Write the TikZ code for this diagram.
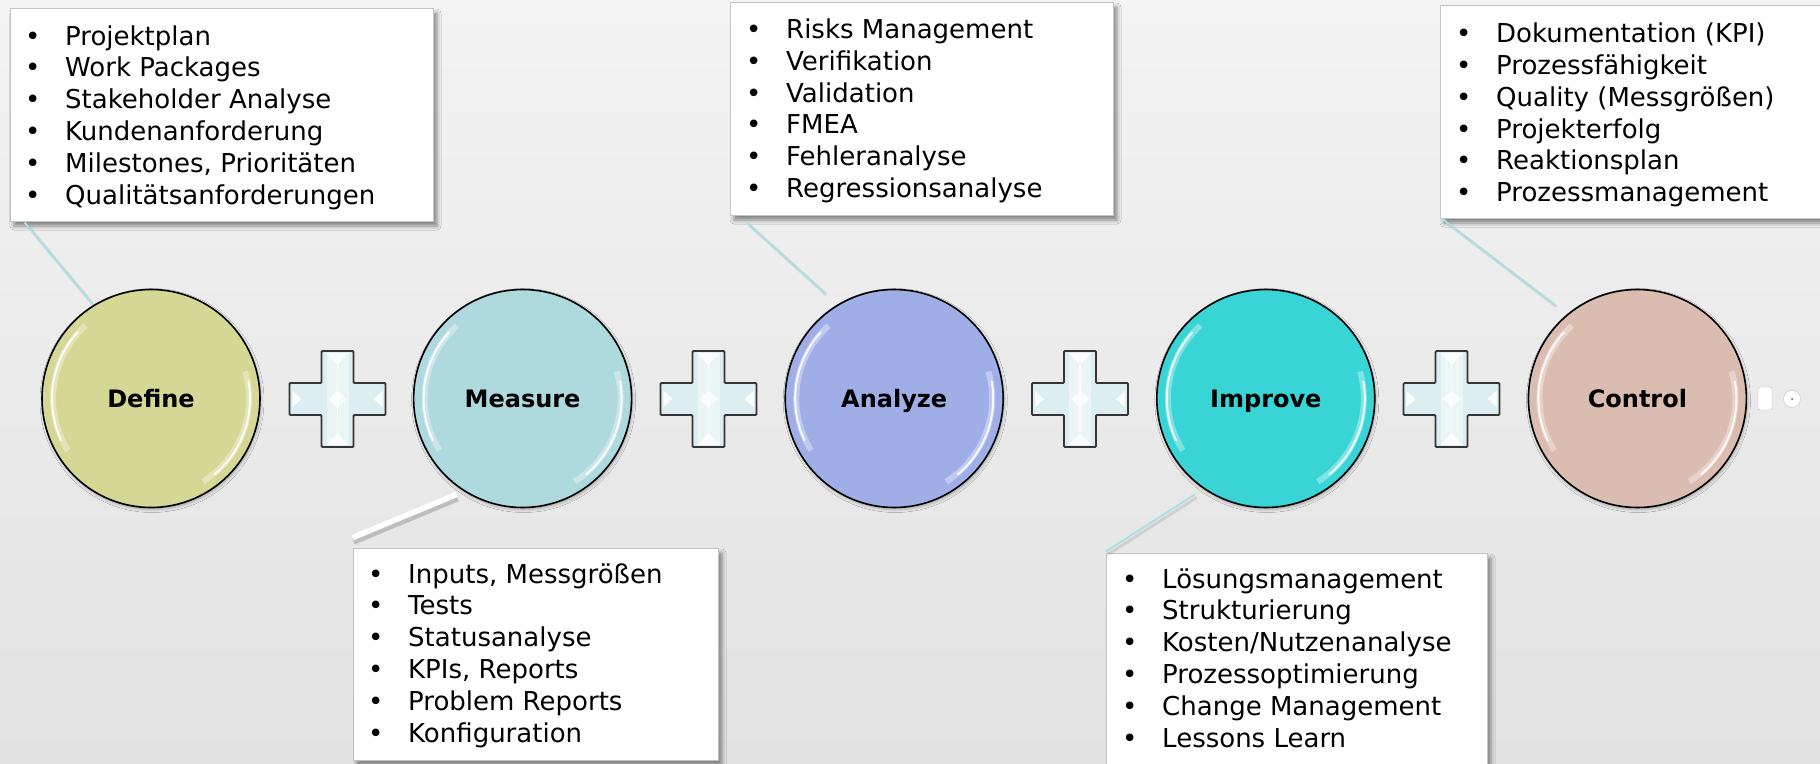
\documentclass[tikz,border=0pt]{standalone}
\usepackage{fontspec}
\setmainfont{DejaVu Sans}
\usetikzlibrary{calc,shadows,shadows.blur}
\definecolor{bgtop}{HTML}{F3F3F3}
\definecolor{bgbot}{HTML}{E2E2E2}
\definecolor{cdefine}{HTML}{D4D894}
\definecolor{cmeasure}{HTML}{AED9DE}
\definecolor{canalyze}{HTML}{A0AEE8}
\definecolor{cimprove}{HTML}{39D4D6}
\definecolor{ccontrol}{HTML}{DBBCB0}
\definecolor{boxborder}{HTML}{C4C4C4}
\definecolor{tealc}{HTML}{ACDFE3}
\definecolor{plusfill}{HTML}{DCEEF0}
\definecolor{plusborder}{HTML}{353535}
\newcommand\blist[1]{\begin{tabular}[t]{@{}p{40pt}@{}l@{}}#1\end{tabular}}
\begin{document}
\begin{tikzpicture}[x=1pt,y=-1pt,
  phase/.style={circle, draw=black, line width=1.6pt, minimum size=218pt, inner sep=0pt,
    font=\fontsize{24}{28}\selectfont\bfseries, text height=17.5pt, text depth=0pt,
    blur shadow={shadow xshift=1pt, shadow yshift=-2pt, shadow blur radius=3pt, shadow opacity=30}},
  infobox/.style={draw=boxborder, line width=0.8pt, fill=white, inner sep=0pt,
    blur shadow={shadow xshift=4pt, shadow yshift=-5pt, shadow blur radius=4pt, shadow opacity=45}},
  itemtext/.style={anchor=base west, inner sep=0pt, font=\fontsize{26}{31.8}\selectfont},
  tealline/.style={draw=tealc, line width=2pt},
  lineshadow/.style={draw=black, opacity=0.10, line width=3pt},
  gloss/.pic={
    \begin{scope}[yscale=-1]
      \draw[white, opacity=0.35, line width=6pt] (132:98) arc (132:212:98);
      \draw[white, opacity=0.85, line width=2pt, line cap=round] (138:99) arc (138:205:99);
      \draw[white, opacity=0.35, line width=6pt] (-58:98) arc (-58:16:98);
      \draw[white, opacity=0.85, line width=2pt, line cap=round] (-50:99) arc (-50:10:99);
    \end{scope}
  },
  plussign/.pic={
    \path[draw=plusborder, line width=1.8pt, fill=plusfill, rounded corners=1pt]
      (-16,-48) -- (16,-48) -- (16,-16) -- (48,-16) -- (48,16) -- (16,16) -- (16,48)
      -- (-16,48) -- (-16,16) -- (-48,16) -- (-48,-16) -- (-16,-16) -- cycle;
    \fill[white, opacity=0.45] (-11,-46) rectangle (11,46);
    \fill[white, opacity=0.8] (-11,-46) -- (0,-34) -- (11,-46) -- cycle;
    \fill[white, opacity=0.8] (-11,46) -- (0,34) -- (11,46) -- cycle;
    \draw[white, line width=1.4pt] (0,-34) -- (0,34);
    \fill[white, opacity=0.7] (-9,0) -- (0,-9) -- (9,0) -- (0,9) -- cycle;
    \fill[white, opacity=0.9] (-45,-8) -- (-36,0) -- (-45,8) -- cycle;
    \fill[white, opacity=0.9] (45,-8) -- (36,0) -- (45,8) -- cycle;
  }
]
\useasboundingbox (0,0) rectangle (1820,763);
\shade[top color=bgtop, bottom color=bgbot] (0,0) rectangle (1820,763);

% phase circles
\node[phase, fill=cdefine]  (define)  at (151,398.5)   {Define};
\node[phase, fill=cmeasure] (measure) at (522.6,398.5) {Measure};
\node[phase, fill=canalyze] (analyze) at (894.2,398.5) {Analyze};
\node[phase, fill=cimprove] (improve) at (1265.8,398.5) {Improve};
\node[phase, fill=ccontrol] (control) at (1637.4,398.5) {Control};
\foreach \n in {define,measure,analyze,improve,control} \pic at (\n) {gloss};

% plus signs
\pic at (337.5,399) {plussign};
\pic at (708.5,399) {plussign};
\pic at (1080,399) {plussign};
\pic at (1451.5,399) {plussign};

% info boxes
\node[infobox, minimum width=423pt, minimum height=213pt] (dbox) at (221.5,114.5) {};
\node[infobox, minimum width=365pt, minimum height=212pt] (mbox) at (535.5,654) {};
\node[infobox, minimum width=383pt, minimum height=213pt] (abox) at (921.5,108.5) {};
\node[infobox, minimum width=381pt, minimum height=237pt] (ibox) at (1296.5,671.5) {};
\node[infobox, minimum width=390pt, minimum height=213pt] (cbox) at (1635,111.5) {};

% connectors
\coordinate (d1) at ($(dbox.south west)+(15,1)$);
\coordinate (d2) at ($(define.center)+(-59,-95)$);
\coordinate (m1) at ($(mbox.north west)+(0,-10)$);
\coordinate (m2) at ($(measure.center)+(-66,96)$);
\coordinate (a1) at ($(abox.south west)+(17,7)$);
\coordinate (a2) at ($(analyze.center)+(-70,-106)$);
\coordinate (i1) at ($(ibox.north west)+(0,-1)$);
\coordinate (i2) at ($(improve.center)+(-71,96)$);
\coordinate (c1) at ($(cbox.south west)+(2,0)$);
\coordinate (c2) at ($(control.center)+(-83,-94)$);
\draw[lineshadow] ([shift={(2,2)}]d1) -- ([shift={(2,2)}]d2);
\draw[tealline] (d1) -- (d2);
\draw[draw=black, opacity=0.18, line width=6pt] ([shift={(1,4)}]m1) -- ([shift={(1,4)}]m2);
\draw[white, line width=5.5pt] (m1) -- (m2);
\draw[lineshadow] ([shift={(2,2)}]a1) -- ([shift={(2,2)}]a2);
\draw[tealline] (a1) -- (a2);
\draw[lineshadow] ([shift={(2,3)}]i1) -- ([shift={(2,3)}]i2);
\draw[tealline] (i1) -- (i2);
\draw[lineshadow] ([shift={(2,2)}]c1) -- ([shift={(2,2)}]c2);
\draw[tealline] (c1) -- (c2);

% box texts
\node[itemtext] (dtext) at (25,45) {\blist{
  \textbullet & Projektplan\\
  \textbullet & Work Packages\\
  \textbullet & Stakeholder Analyse\\
  \textbullet & Kundenanforderung\\
  \textbullet & Milestones, Prioritäten\\
  \textbullet & Qualitätsanforderungen}};
\node[itemtext] (mtext) at (368,583) {\blist{
  \textbullet & Inputs, Messgrößen\\
  \textbullet & Tests\\
  \textbullet & Statusanalyse\\
  \textbullet & KPIs, Reports\\
  \textbullet & Problem Reports\\
  \textbullet & Konfiguration}};
\node[itemtext] (atext) at (746,38.5) {\blist{
  \textbullet & Risks Management\\
  \textbullet & Verifikation\\
  \textbullet & Validation\\
  \textbullet & FMEA\\
  \textbullet & Fehleranalyse\\
  \textbullet & Regressionsanalyse}};
\node[itemtext] (itext) at (1122,588) {\blist{
  \textbullet & Lösungsmanagement\\
  \textbullet & Strukturierung\\
  \textbullet & Kosten/Nutzenanalyse\\
  \textbullet & Prozessoptimierung\\
  \textbullet & Change Management\\
  \textbullet & Lessons Learn}};
\node[itemtext] (ctext) at (1456,42.7) {\blist{
  \textbullet & Dokumentation (KPI)\\
  \textbullet & Prozessfähigkeit\\
  \textbullet & Quality (Messgrößen)\\
  \textbullet & Projekterfolg\\
  \textbullet & Reaktionsplan\\
  \textbullet & Prozessmanagement}};

% small handles right of Control
\node[draw=gray!55, fill=white, rounded corners=2pt, minimum width=14pt, minimum height=23pt, inner sep=0pt] (handle) at (1765,398.5) {};
\node[circle, draw=gray!45, fill=white, minimum size=17pt, inner sep=0pt] (knob) at (1792,399) {};
\fill[gray!70!black] (knob.center) circle (1pt);
\end{tikzpicture}
\end{document}
